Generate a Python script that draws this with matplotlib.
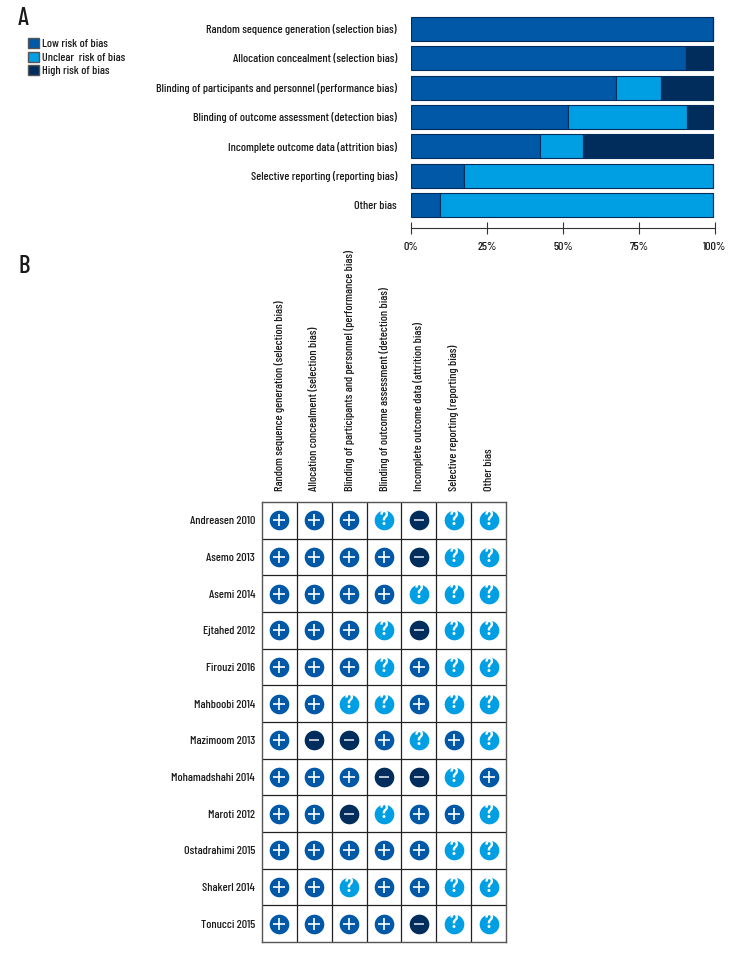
import matplotlib
matplotlib.use("Agg")
import matplotlib.pyplot as plt
from matplotlib.patches import Patch

plt.rcParams["font.family"] = ["Barlow Condensed", "Roboto Condensed", "DejaVu Sans"]
plt.rcParams["font.weight"] = 500

domains = ["Random sequence generation (selection bias)",
           "Allocation concealment (selection bias)",
           "Blinding of participants and personnel (performance bias)",
           "Blinding of outcome assessment (detection bias)",
           "Incomplete outcome data (attrition bias)",
           "Selective reporting (reporting bias)",
           "Other bias"]
low = [99.4, 90.5, 67.5, 51.5, 42.5, 17.3, 9.5]
unclear = [0, 0, 14.8, 39.4, 14.2, 82.1, 89.9]
high = [0, 8.9, 17.1, 8.5, 42.7, 0, 0]
pct_ticks = [0, 25, 50, 75, 100]

studies = ["Andreasen 2010", "Asemo 2013", "Asemi 2014", "Ejtahed 2012", "Firouzi 2016",
           "Mahboobi 2014", "Mazimoom 2013", "Mohamadshahi 2014", "Maroti 2012",
           "Ostadrahimi 2015", "Shakerl 2014", "Tonucci 2015"]
ratings = ["+++?-??",
           "++++-??",
           "++++???",
           "+++?-??",
           "+++?+??",
           "++??+??",
           "+--+?+?",
           "+++--?+",
           "++-?++?",
           "+++++??",
           "++?++??",
           "++++-??"]

col_low = "#0058a6"
col_unclear = "#009fe3"
col_high = "#002d5c"
colors = {"+": col_low, "?": col_unclear, "-": col_high}
txt = "#1a1a1a"
fs = 8.7

W, H = 756, 960
fig = plt.figure(figsize=(W / 100, H / 100), dpi=100, facecolor="white")

def px_axes(x0, y0, x1, y1):
    return fig.add_axes([x0 / W, 1 - y1 / H, (x1 - x0) / W, (y1 - y0) / H])

# panel A
ax = px_axes(411, 12, 715, 227.7)
rows = range(len(domains))
left2 = [a + b for a, b in zip(low, unclear)]
ax.barh(rows, low, height=0.82, color=col_low, edgecolor=col_high, linewidth=0.8)
ax.barh(rows, unclear, left=low, height=0.82, color=col_unclear, edgecolor=col_high, linewidth=0.8)
ax.barh(rows, high, left=left2, height=0.82, color=col_high, edgecolor=col_high, linewidth=0.8)
ax.set_xlim(0, 100)
ax.set_ylim(6.78, -0.58)
ax.set_yticks(list(rows), domains, fontsize=fs, color=txt)
ax.set_xticks(pct_ticks, [f"{t}%" for t in pct_ticks], fontsize=fs, color=txt)
ax.tick_params(axis="y", length=0, pad=10)
ax.tick_params(axis="x", direction="inout", length=8.6, width=0.8, color="#333333", pad=6)
for s in ["top", "right", "left"]:
    ax.spines[s].set_visible(False)
ax.spines["bottom"].set_color("#333333")
ax.spines["bottom"].set_linewidth(0.8)

fig.legend(handles=[Patch(facecolor=col_low, edgecolor="#555555", label="Low risk of bias"),
                    Patch(facecolor=col_unclear, edgecolor="#555555", label="Unclear  risk of bias"),
                    Patch(facecolor=col_high, edgecolor="#555555", label="High risk of bias")],
           loc="upper left", bbox_to_anchor=(28 / W, 1 - 38 / H), borderaxespad=0, borderpad=0,
           frameon=False, fontsize=fs, handlelength=0.9, handleheight=0.9, handletextpad=0.25,
           labelspacing=0.2, labelcolor=txt)

fig.text(18 / W, 1 - 25 / H, "A", fontsize=18, color=txt)
fig.text(18 / W, 1 - 273 / H, "B", fontsize=18, color=txt)

# panel B
ax2 = px_axes(262, 502, 506, 942)
n_rows, n_cols = len(studies), len(domains)
ax2.set_xlim(-0.5, n_cols - 0.5)
ax2.set_ylim(n_rows - 0.5, -0.5)
ax2.set_xticks(range(n_cols), domains, rotation=90, fontsize=fs, color=txt)
ax2.set_yticks(range(n_rows), studies, fontsize=fs, color=txt)
ax2.xaxis.tick_top()
ax2.tick_params(length=0)
ax2.tick_params(axis="x", pad=8)
ax2.tick_params(axis="y", pad=5)
ax2.set_xticks([i + 0.5 for i in range(n_cols - 1)], minor=True)
ax2.set_yticks([i + 0.5 for i in range(n_rows - 1)], minor=True)
ax2.grid(which="minor", color="#222222", linewidth=0.9)
ax2.tick_params(which="minor", length=0)
for s in ax2.spines.values():
    s.set_color("#555555")
    s.set_linewidth(1.0)

for r, line in enumerate(ratings):
    for c, mark in enumerate(line):
        ax2.scatter(c, r, s=200, color=colors[mark], linewidths=0, zorder=3)
        if mark == "+":
            ax2.scatter(c, r, s=65, marker="+", color="white", linewidths=1.2, zorder=4)
        elif mark == "-":
            ax2.scatter(c, r, s=50, marker="_", color="#b9c6d6", linewidths=1.4, zorder=4)
        else:
            ax2.text(c, r - 0.02, "?", color="white", fontsize=15, fontweight="semibold",
                     ha="center", va="center", zorder=4)

fig.savefig("out.png", dpi=100)
